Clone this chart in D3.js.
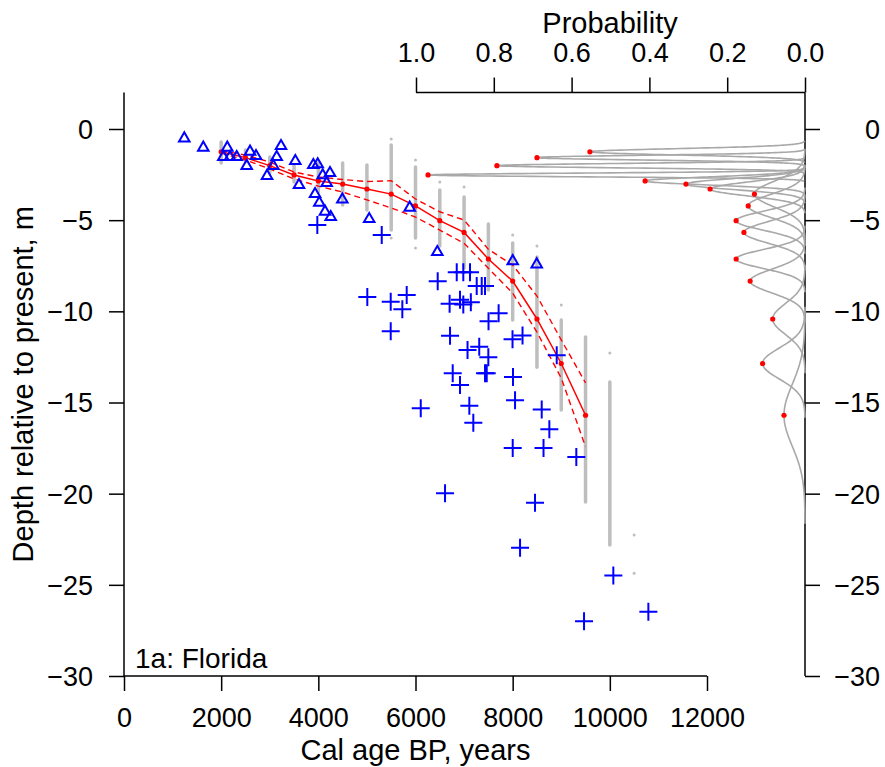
<!DOCTYPE html>
<html>
<head>
    <meta charset="utf-8">
    <title>1a: Florida sea level</title>
    <script src="https://d3js.org/d3.v7.min.js"></script>
    <style>
        body { margin: 0; padding: 0; background: #fff; }
        text { font-family: "Liberation Sans", Arial, sans-serif; fill: #000; }
        .domain, .tick line { stroke: #000; stroke-width: 1.5; }
    </style>
</head>
<body>
<svg id="svg" width="885" height="767"></svg>
<script>
// ---- data ----
// model grid (cal age BP) with median and bounds of predicted depth
const gridAges    = [2000, 2500, 3000, 3500, 4000, 4500, 5000, 5500, 6000, 6500, 7000, 7500, 8000, 8500, 9000, 9500];
const medianDepth = [-1.25, -1.57, -2.01, -2.52, -2.85, -3.02, -3.29, -3.57, -4.22, -5.03, -5.67, -7.13, -8.34, -10.42, -12.86, -15.70];
const upperDepth  = [-1.18, -1.43, -1.81, -2.36, -2.63, -2.77, -2.88, -2.84, -3.84, -4.54, -4.99, -6.60, -7.46, -9.16, -11.57, -13.92];
const lowerDepth  = [-1.32, -1.70, -2.19, -2.74, -3.13, -3.46, -3.89, -4.33, -4.83, -5.54, -6.27, -7.64, -9.00, -11.14, -13.66, -17.43];

// probability panel: peak height and spread of each depth distribution
const peakProb  = [0.553, 0.689, 0.792, 0.969, 0.411, 0.306, 0.244, 0.130, 0.146, 0.177, 0.157, 0.177, 0.141, 0.083, 0.109, 0.054];
const peakSigma = [0.17, 0.13, 0.12, 0.10, 0.22, 0.30, 0.38, 0.71, 0.63, 0.52, 0.59, 0.52, 0.65, 0.85, 0.85, 1.70];

// posterior samples: dense band per age, plus stray samples
const sampleAges = [2000, 2500, 3000, 3500, 4000, 4500, 5000, 5500, 6000, 6500, 7000, 7500, 8000, 8500, 9000, 9500, 10000];
const sampleTop  = [-0.71, -1.15, -1.54, -1.97, -1.87, -1.87, -1.97, -0.88, -2.08, -3.35, -3.73, -5.21, -6.25, -7.02, -10.48, -11.41, -13.88];
const sampleBot  = [-1.87, -1.81, -2.41, -2.91, -3.46, -4.17, -4.44, -5.54, -5.98, -6.42, -7.62, -8.83, -10.48, -13.06, -15.41, -20.46, -22.82];
const strayAge   = [5500, 5500, 6000, 6000, 6500, 7000, 8000, 8500, 9000, 10000, 10500, 10500];
const strayDepth = [-0.55, -5.98, -1.70, -6.53, -2.91, -3.18, -5.81, -6.42, -9.65, -12.29, -22.27, -24.36];

// index points (triangles) and limiting points (crosses)
const triAge   = [1241, 1632, 2126, 2044, 2182, 2320, 2594, 2717, 2526, 3232, 3143, 3073, 2944, 3526, 3602, 3897, 3987, 4090, 4240, 4172, 3932, 4020, 4137, 4255, 4494, 5047, 5881, 6449, 8001, 8495];
const triDepth = [-0.46, -0.97, -0.97, -1.48, -1.48, -1.48, -1.19, -1.43, -1.97, -0.88, -1.48, -1.97, -2.52, -1.70, -3.02, -1.92, -1.88, -2.48, -2.36, -2.91, -3.51, -3.99, -4.48, -4.77, -3.81, -4.88, -4.26, -6.69, -7.19, -7.37];

const crossAge   = [3979, 5305, 6457, 6849, 6984, 7122, 7260, 7363, 7431, 5008, 5490, 5819, 5729, 5490, 6702, 6916, 6984, 7139, 7503, 7711, 6711, 7997, 8203, 7071, 7312, 7499, 8907, 6766, 6916, 7431, 7466, 8007, 6108, 7108, 7190, 8049, 8598, 8755, 8001, 8635, 9310, 6608, 8460, 8152, 10072, 9469, 10793];
const crossDepth = [-5.27, -5.81, -8.35, -7.86, -7.86, -7.86, -8.61, -8.61, -8.61, -9.22, -9.47, -9.11, -9.89, -11.09, -9.58, -9.36, -9.63, -9.50, -10.55, -10.11, -11.34, -11.53, -11.33, -12.12, -11.94, -12.52, -12.41, -13.40, -14.04, -13.40, -13.40, -13.60, -15.32, -15.18, -16.11, -14.88, -15.39, -16.47, -17.50, -17.50, -17.99, -19.98, -20.50, -22.97, -24.49, -27.00, -26.48];

const xTicks = [0, 2000, 4000, 6000, 8000, 10000, 12000];
const yTicks = [0, -5, -10, -15, -20, -25, -30];
const pTicks = [1.0, 0.8, 0.6, 0.4, 0.2, 0.0];

// ---- scales ----
const svg = d3.select("#svg");
const x = d3.scaleLinear().domain([0, 12000]).range([124, 707]);
const y = d3.scaleLinear().domain([0, -30]).range([129, 676]);
const p = d3.scaleLinear().domain([0, 1]).range([805, 416]);

const GREY = "#bebebe";
const BLUE = "#0000ff";
const RED = "#ff0000";

// ---- axes ----
// left
svg.append("line")
    .attr("x1", 124).attr("x2", 124).attr("y1", y(2)).attr("y2", y(-30))
    .attr("stroke", "#000").attr("stroke-width", 1.5);
const gl = svg.append("g").attr("transform", "translate(124,0)")
    .call(d3.axisLeft(y).tickValues(yTicks).tickSize(15).tickPadding(16).tickFormat(d3.format("d")));
gl.select(".domain").remove();
gl.selectAll("text").attr("font-size", 27).attr("dy", "0.35em");

// bottom
const gb = svg.append("g").attr("transform", "translate(0,676)")
    .call(d3.axisBottom(x).tickValues(xTicks).tickSize(15).tickPadding(16).tickFormat(d3.format("d")));
gb.select(".domain").attr("d", `M${x(0)},0H${x(12000)}`);
gb.selectAll("text").attr("font-size", 27).attr("dy", "0.75em");

// right
svg.append("line")
    .attr("x1", 805).attr("x2", 805).attr("y1", y(2)).attr("y2", y(-30))
    .attr("stroke", "#000").attr("stroke-width", 1.5);
const gr = svg.append("g").attr("transform", "translate(805,0)")
    .call(d3.axisRight(y).tickValues(yTicks).tickSize(15).tickFormat(d3.format("d")));
gr.select(".domain").remove();
gr.selectAll("text").attr("font-size", 27).attr("dy", "0.35em")
    .attr("x", 75).attr("text-anchor", "end");

// top (probability)
const gt = svg.append("g").attr("transform", `translate(0,${y(2)})`)
    .call(d3.axisTop(p).tickValues(pTicks).tickSize(15).tickPadding(16).tickFormat(d3.format(".1f")));
gt.select(".domain").attr("d", `M${p(1)},0H${p(0)}`);
gt.selectAll("text").attr("font-size", 27);

// titles
svg.append("text").attr("x", 610).attr("y", 33).attr("text-anchor", "middle")
    .attr("font-size", 29).text("Probability");
svg.append("text").attr("x", (x(0) + x(12000)) / 2).attr("y", 760).attr("text-anchor", "middle")
    .attr("font-size", 29).text("Cal age BP, years");
svg.append("text").attr("transform", `translate(33,${(y(2) + y(-30)) / 2}) rotate(-90)`)
    .attr("text-anchor", "middle").attr("font-size", 29).text("Depth relative to present, m");
svg.append("text").attr("x", 135).attr("y", 668).attr("font-size", 28).text("1a: Florida");

// ---- posterior sample columns ----
svg.append("g").selectAll("line")
    .data(sampleAges.map((a, i) => ({ a, t: sampleTop[i], b: sampleBot[i] })))
    .join("line")
    .attr("x1", d => x(d.a)).attr("x2", d => x(d.a))
    .attr("y1", d => y(d.t)).attr("y2", d => y(d.b))
    .attr("stroke", GREY).attr("stroke-width", 3.5).attr("stroke-linecap", "round");
svg.append("g").selectAll("circle")
    .data(strayAge.map((a, i) => ({ a, d: strayDepth[i] })))
    .join("circle")
    .attr("cx", d => x(d.a)).attr("cy", d => y(d.d)).attr("r", 1.5).attr("fill", GREY);

// ---- probability curves ----
const curveLine = d3.line().x(d => p(d[1])).y(d => y(d[0])).curve(d3.curveBasis);
const curves = gridAges.map((a, i) => {
    const mu = medianDepth[i], s = peakSigma[i], pk = peakProb[i];
    return d3.range(-3.5, 3.5001, 0.05).map(k => [mu + k * s, pk * Math.exp(-k * k / 2)]);
});
svg.append("g").selectAll("path")
    .data(curves).join("path")
    .attr("d", curveLine)
    .attr("fill", "none").attr("stroke", "#a8a8a8").attr("stroke-width", 1.6);
svg.append("g").selectAll("circle")
    .data(gridAges.map((a, i) => i)).join("circle")
    .attr("cx", i => p(peakProb[i])).attr("cy", i => y(medianDepth[i]))
    .attr("r", 2.6).attr("fill", RED);

// ---- model median and bounds ----
const line = d3.line().x(d => x(d[0])).y(d => y(d[1]));
svg.append("path").datum(gridAges.map((a, i) => [a, medianDepth[i]]))
    .attr("d", line).attr("fill", "none").attr("stroke", RED).attr("stroke-width", 1.5);
[upperDepth, lowerDepth].forEach(arr => {
    svg.append("path").datum(gridAges.map((a, i) => [a, arr[i]]))
        .attr("d", line).attr("fill", "none").attr("stroke", RED)
        .attr("stroke-width", 1.4).attr("stroke-dasharray", "6,4");
});
svg.append("g").selectAll("circle")
    .data(gridAges.map((a, i) => [a, medianDepth[i]])).join("circle")
    .attr("cx", d => x(d[0])).attr("cy", d => y(d[1])).attr("r", 2.6).attr("fill", RED);

// ---- observations ----
const tri = d3.symbol().type(d3.symbolTriangle).size(48);
svg.append("g").selectAll("path")
    .data(triAge.map((a, i) => [a, triDepth[i]])).join("path")
    .attr("d", tri)
    .attr("transform", d => `translate(${x(d[0])},${y(d[1]) + 1})`)
    .attr("fill", "none").attr("stroke", BLUE).attr("stroke-width", 2);

svg.append("g").selectAll("path")
    .data(crossAge.map((a, i) => [a, crossDepth[i]])).join("path")
    .attr("d", "M-9,0H9M0,-9V9")
    .attr("transform", d => `translate(${x(d[0])},${y(d[1])})`)
    .attr("fill", "none").attr("stroke", BLUE).attr("stroke-width", 2);
</script>
</body>
</html>
